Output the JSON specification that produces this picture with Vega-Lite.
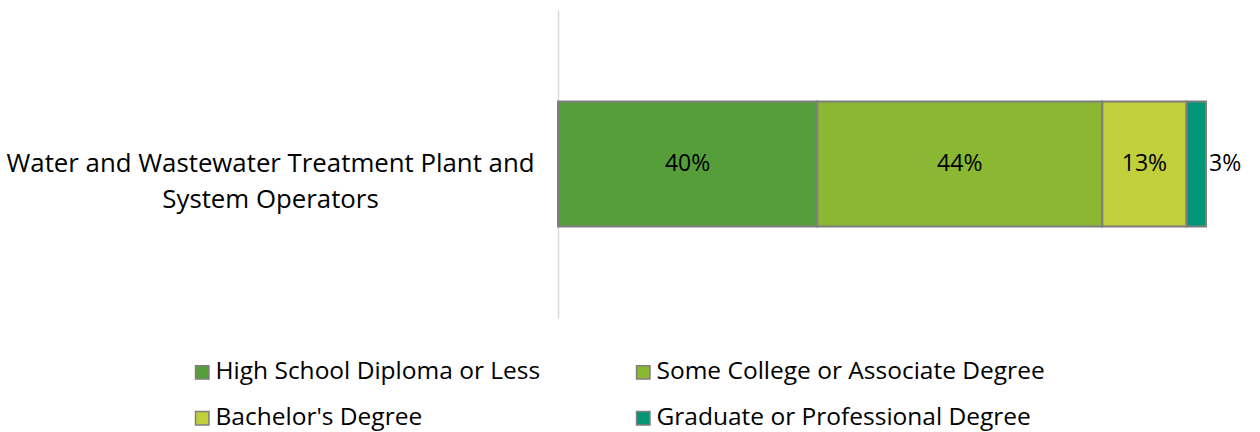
{
  "$schema": "https://vega.github.io/schema/vega-lite/v6.json",
  "width": 648,
  "height": 308,
  "autosize": {"type": "none"},
  "padding": {"left": 558, "top": 10, "right": 54, "bottom": 114},
  "background": "white",
  "config": {"view": {"stroke": null}, "font": "Open Sans", "text": {"font": "Open Sans"}},
  "data": {
    "values": [
      {"occupation": "Water and Wastewater Treatment Plant and System Operators", "education": "High School Diploma or Less", "level": 1, "share": 0.40},
      {"occupation": "Water and Wastewater Treatment Plant and System Operators", "education": "Some College or Associate Degree", "level": 2, "share": 0.44},
      {"occupation": "Water and Wastewater Treatment Plant and System Operators", "education": "Bachelor's Degree", "level": 3, "share": 0.13},
      {"occupation": "Water and Wastewater Treatment Plant and System Operators", "education": "Graduate or Professional Degree", "level": 4, "share": 0.03}
    ]
  },
  "encoding": {
    "y": {
      "field": "occupation",
      "type": "nominal",
      "title": null,
      "scale": {"paddingInner": 0, "paddingOuter": 0.732},
      "axis": {
        "domainColor": "#d9d9d9",
        "domainWidth": 1.5,
        "ticks": false,
        "labelFont": "Open Sans",
        "labelFontSize": 25.8,
        "labelColor": "black",
        "labelAlign": "center",
        "labelBaseline": "middle",
        "labelPadding": 288,
        "labelLineHeight": 36,
        "labelLimit": 0,
        "labelExpr": "[substring(datum.label, 0, indexof(datum.label, ' System')), substring(datum.label, indexof(datum.label, ' System') + 1)]"
      }
    },
    "order": {"field": "level", "type": "quantitative", "sort": "ascending"}
  },
  "layer": [
    {
      "mark": {"type": "bar", "stroke": "#7f7f7f", "strokeWidth": 2},
      "encoding": {
        "x": {"field": "share", "type": "quantitative", "stack": "zero", "scale": {"domain": [0, 1]}, "axis": null},
        "color": {
          "field": "education",
          "type": "nominal",
          "sort": ["High School Diploma or Less", "Some College or Associate Degree", "Bachelor's Degree", "Graduate or Professional Degree"],
          "scale": {
            "domain": ["High School Diploma or Less", "Some College or Associate Degree", "Bachelor's Degree", "Graduate or Professional Degree"],
            "range": ["#559e3a", "#8ab833", "#c0cf3a", "#029676"]
          },
          "legend": {
            "title": null,
            "orient": "none",
            "legendX": -368,
            "legendY": 350,
            "direction": "horizontal",
            "columns": 2,
            "symbolType": "square",
            "symbolSize": 180,
            "symbolStrokeColor": "#7f7f7f",
            "symbolStrokeWidth": 1.5,
            "labelFont": "Open Sans",
            "labelFontSize": 24.5,
            "labelColor": "black",
            "labelOffset": 1,
            "labelLimit": 0,
            "rowPadding": 21,
            "columnPadding": 90
          }
        }
      }
    },
    {
      "mark": {"type": "text", "fontSize": 23, "color": "black", "align": "center", "baseline": "middle"},
      "encoding": {
        "x": {"field": "share", "type": "quantitative", "stack": "zero", "bandPosition": 0.5},
        "detail": {"field": "education"},
        "text": {"condition": {"test": "datum.share >= 0.05", "field": "share", "format": ".0%"}, "value": ""}
      }
    },
    {
      "mark": {"type": "text", "fontSize": 23, "color": "black", "align": "left", "baseline": "middle", "dx": 3},
      "encoding": {
        "x": {"field": "share", "type": "quantitative", "stack": "zero"},
        "detail": {"field": "education"},
        "text": {"condition": {"test": "datum.share < 0.05", "field": "share", "format": ".0%"}, "value": ""}
      }
    }
  ]
}
